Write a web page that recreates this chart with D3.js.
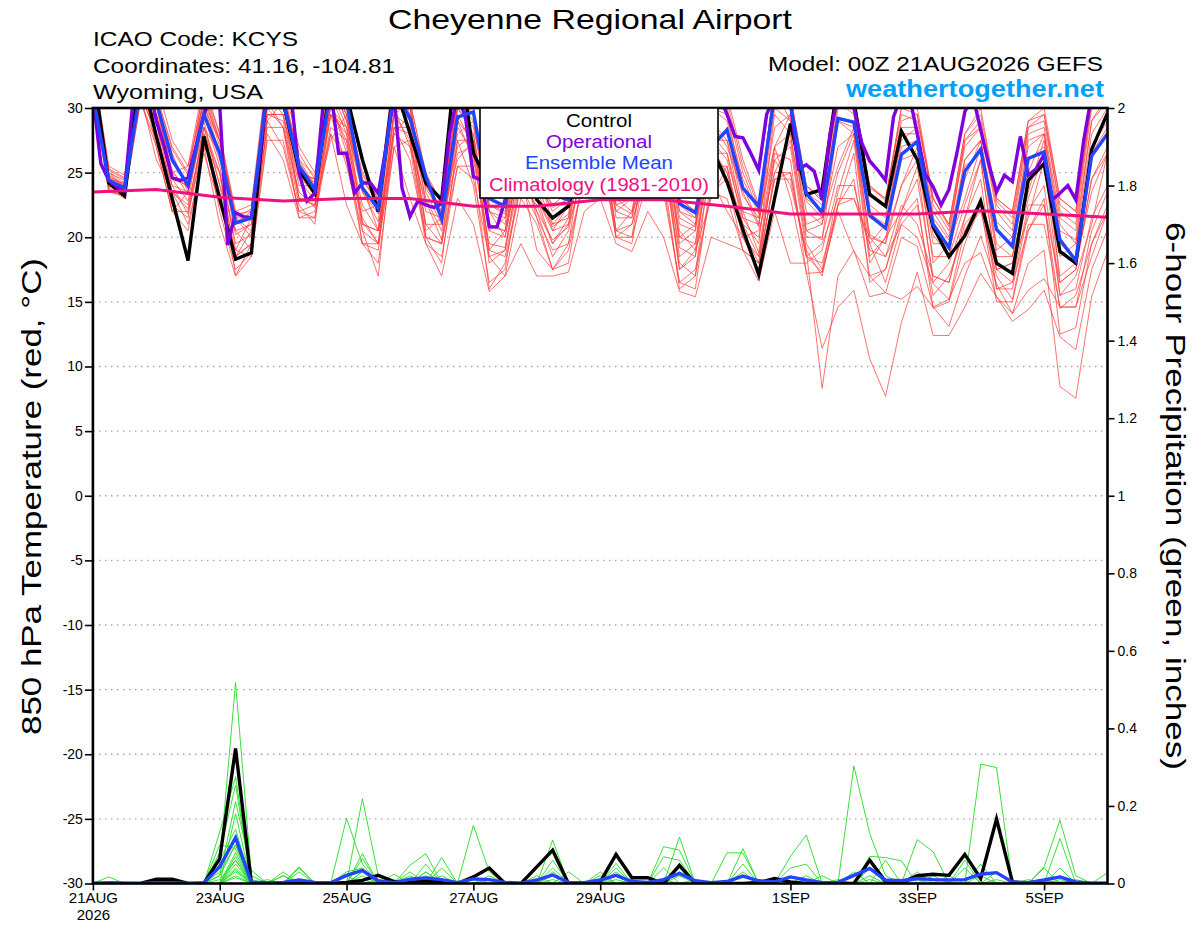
<!DOCTYPE html>
<html><head><meta charset="utf-8">
<script src="https://cdn.jsdelivr.net/npm/d3@7"></script>
<style>
body{margin:0;background:#fff}
svg{display:block}
text{font-family:"Liberation Sans",Arial,Helvetica,sans-serif}
</style>
</head><body>
<svg id="c" width="1200" height="927"></svg>
<script>
// ---------------- DATA ----------------
const runStart = "2026-08-21T00:00:00Z";
const stepHours = 6;          // members, control, mean
const operStepHours = 3;      // operational run
const tempTickValues = [-30,-25,-20,-15,-10,-5,0,5,10,15,20,25,30];
const tempTickLabels = ["-30","-25","-20","-15","-10","-5","0","5","10","15","20","25","30"];
const precipTickValues = [0,0.2,0.4,0.6,0.8,1,1.2,1.4,1.6,1.8,2];
const precipTickLabels = ["0","0.2","0.4","0.6","0.8","1","1.2","1.4","1.6","1.8","2"];
const dateTicks = ["2026-08-21","2026-08-23","2026-08-25","2026-08-27","2026-08-29","2026-09-01","2026-09-03","2026-09-05"];
const dateTickLabels = ["21AUG","23AUG","25AUG","27AUG","29AUG","1SEP","3SEP","5SEP"];
const firstTickYear = "2026";

// control (black) 850 hPa temperature, 6-hourly
const controlTemp = [33,24.2,23.2,33, 27.8,23.0,18.2,27.8, 23.0,18.3,18.8,32, 30.5,25.2,23.4,32,
  31,26.0,22.0,32, 28,24.2,22.9,35, 26.5,24,24.5,28, 22.9,21.5,22.4,27,
  31,28,25,29, 28,25,24,27, 24.3,20.6,17.1,23.0, 28.8,23.3,23.7,32,
  30.5,23.3,22.4,28.2, 26.0,20.8,18.5,20.1, 22.8,18.0,17.2,24.4, 25.7,18.9,18.0,26.8, 29.6];
// ensemble mean (blue)
const meanTemp = [31,24.4,23.8,31.5, 30.5,26.0,24.0,29.5, 26.5,21.1,21.5,31.5, 30.5,25.5,23.7,31.5,
  30.5,23.8,22.2,31.5, 29.2,24.7,21.4,29.3, 29.7,23.0,22.4,28, 24,23.3,22.9,27,
  30,24.5,23.5,28, 28,22.6,21.9,27, 28.3,23.8,22.4,31, 30.3,23.4,21.9,29.2,
  28.9,21.7,20.7,26.4, 27.4,21.0,19.2,25.1, 26.8,20.6,19.3,26.1, 26.6,19.8,18.2,26.3, 28.0];
// operational (purple), 3-hourly
const operTemp = [31,25.7,24.4,23.9,23.6,30.2,33,32,29.0,27.0,24.6,24.4,24.6,27.0,29.5,31,
  30.2,19.4,21.9,21.6,21.5,26.0,31.5,33,33,31,25.0,22.8,23.4,30,31.5,26.5,
  26.5,23.4,24.2,24.2,23.4,27,31,23.8,21.6,22.8,22.5,22.3,22.6,28,31,29.3,
  24.7,24.4,20.8,20.8,22.9,27,31,33,32,29,26,25,24.5,27,31,33,
  32,29,26,25,24.5,27,31,33,32,29,26,25,24.5,27,31,31,
  29.5,27.8,27.7,26.5,25.2,29.5,31,32,30.5,25.3,25.6,25.1,22.9,28,31,32,
  30,27.3,25.9,25.2,24.4,29.3,31,31,28.0,24.9,23.9,22.5,23.7,26.5,29.7,31,
  28.3,25.7,23.5,24.8,24.3,27.8,24.8,25.3,26.4,22.9,23.4,24.0,22.9,27.5,31,33, 33];
// climatology (1981-2010), daily
const climoTemp = [23.5,23.7,23.1,22.8,23.0,23.0,22.4,22.4,22.9,22.9,22.4,21.8,21.8,21.8,22.05,21.8,21.55];

// ensemble members (red), 6-hourly
const memberTemps = [
 [32.0,24.8,23.9,32.0, 29.5,25.8,24.2,30.5, 26.5,21.2,21.8,32.0, 30.0,25.8,23.9,32.0, 29.5,23.5,21.8,31.5, 29.0,24.3,21.5,30.0, 28.5,22.5,21.8,28.0, 24.0,22.3,23.0,29.0, 30.5,24.0,23.2,30.0, 28.0,21.5,20.8,29.0, 27.5,23.2,21.5,31.0, 30.0,22.8,21.5,30.5, 29.5,21.5,20.8,27.5, 28.5,21.5,19.8,26.0, 27.5,21.2,20.0,27.0, 28.0,21.0,19.5,28.0, 30.0],
 [31.0,23.5,23.2,31.0, 28.0,23.5,22.2,28.5, 24.0,18.5,19.5,30.0, 28.5,23.5,22.3,30.5, 27.0,21.2,19.5,30.0, 27.0,22.8,19.8,29.0, 26.0,19.5,19.2,26.0, 22.0,19.8,20.8,27.5, 29.0,22.0,21.5,28.0, 26.0,19.2,18.5,27.5, 26.0,21.5,19.5,29.5, 28.0,20.5,19.8,29.0, 28.0,20.2,19.5,27.0, 27.5,20.2,18.5,25.5, 26.5,19.5,18.5,26.0, 27.0,19.5,18.3,27.0, 29.0],
 [32.5,24.5,24.2,33.0, 30.5,26.5,23.5,31.0, 27.0,20.5,21.0,31.5, 31.0,26.0,24.0,32.5, 29.0,24.0,22.0,32.0, 30.0,23.5,21.0,29.5, 27.0,21.0,20.5,27.0, 23.5,21.0,21.5,29.5, 30.0,23.0,22.0,29.0, 27.0,20.5,19.0,27.0, 25.0,21.0,18.5,26.0, 24.0,19.0,8.3,17.0, 19.0,15.4,15.7,20.0, 19.3,14.6,13.1,17.0, 20.1,16.4,14.1,18.0, 19.0,8.45,7.55,15.4, 18.9],
 [31.5,24.0,23.5,31.5, 29.0,24.5,22.8,29.5, 25.5,19.5,20.2,31.0, 29.5,24.5,22.8,31.0, 28.0,22.5,20.5,31.0, 28.5,23.0,20.5,29.0, 27.5,20.5,20.0,26.5, 23.0,20.5,21.0,28.5, 29.5,22.5,21.8,28.5, 26.5,20.0,19.5,28.0, 26.5,22.0,18.8,27.0, 23.0,17.3,11.4,14.6, 15.9,10.6,7.7,13.4, 17.3,12.4,12.4,14.6, 17.2,15.4,13.5,14.4, 15.9,12.3,11.3,17.5, 20.6],
 [33.5,25.5,24.8,33.5, 32.0,27.5,25.5,32.0, 28.0,22.0,22.5,33.0, 32.0,27.0,25.0,33.0, 30.0,25.0,23.0,33.0, 30.5,25.0,22.6,31.0, 30.0,23.0,22.5,30.0, 25.0,23.0,24.0,31.0, 31.0,25.0,24.0,31.0, 30.0,23.0,22.0,31.0, 31.0,26.0,22.5,32.0, 31.0,24.0,23.0,31.0, 31.0,24.0,23.0,30.0, 30.0,23.0,21.0,28.0, 30.0,23.0,22.0,29.0, 30.0,23.0,22.0,31.0, 32.0],
 [31.0,24.2,23.6,32.5, 27.0,22.0,23.5,29.0, 24.0,20.5,19.0,29.0, 30.5,23.0,22.5,27.5, 29.5,21.0,20.5,28.0, 29.5,20.5,21.5,26.0, 27.5,19.0,18.5,24.0, 22.5,19.5,21.0,25.0, 29.0,20.5,22.0,24.5, 27.0,17.5,19.0,23.0, 25.5,20.0,20.5,25.0, 27.5,19.5,17.5,23.5, 27.5,18.0,20.0,22.0, 25.5,16.5,18.0,21.5, 26.0,17.5,18.0,21.5, 26.0,15.5,17.0,21.0, 26.5],
 [32.0,25.0,24.4,31.5, 30.0,25.0,23.8,30.0, 27.5,21.5,21.5,32.5, 31.5,25.0,24.5,32.0, 29.5,24.5,22.5,32.5, 29.5,24.5,22.0,30.5, 29.0,22.0,21.0,29.0, 24.5,22.5,22.5,30.0, 30.5,24.5,23.5,30.5, 29.0,22.5,21.5,30.0, 29.0,24.5,21.8,31.5, 29.0,23.5,22.5,31.0, 30.5,23.5,22.5,29.0, 29.5,22.5,20.5,27.0, 28.5,22.5,21.0,28.5, 29.5,22.0,21.0,30.0, 31.0],
 [31.5,23.8,23.0,30.5, 27.5,22.5,21.5,28.0, 22.0,17.5,18.8,29.0, 27.0,22.0,21.5,29.5, 25.5,20.5,17.0,28.5, 26.0,20.0,18.0,27.5, 24.0,16.5,17.5,25.0, 19.0,17.5,18.0,25.5, 27.0,20.0,19.5,26.5, 23.5,16.5,16.0,24.5, 22.0,20.0,17.5,25.0, 25.0,18.5,17.3,22.0, 18.9,17.0,15.7,15.2, 16.2,14.6,15.2,18.0, 18.8,15.4,14.1,15.9, 16.8,14.6,14.6,18.5, 22.0],
 [32.0,24.6,24.0,32.0, 30.5,25.0,25.5,30.5, 27.5,21.5,20.0,30.0, 31.0,25.0,24.5,30.0, 28.5,24.0,20.5,29.5, 30.5,22.5,22.0,28.0, 29.0,22.0,20.0,26.5, 25.5,21.0,22.5,27.0, 30.5,22.5,23.0,27.0, 29.0,20.0,21.0,26.5, 28.5,22.0,21.5,27.0, 29.5,21.0,21.5,25.5, 28.5,20.0,19.5,24.0, 27.0,18.0,19.5,23.0, 27.0,18.5,18.5,23.5, 27.5,16.5,17.5,24.5, 27.0],
 [31.0,24.0,23.3,31.0, 26.0,23.5,21.0,26.5, 22.5,19.0,18.5,27.5, 27.5,22.0,22.5,28.0, 26.0,19.5,19.5,27.0, 27.5,20.0,19.5,25.5, 24.5,18.5,17.0,23.0, 21.0,17.5,19.5,24.5, 27.0,20.0,21.0,25.5, 24.0,16.5,17.5,23.5, 23.0,19.0,18.0,24.5, 24.5,18.5,19.5,23.0, 23.0,19.5,16.5,21.0, 22.5,15.5,17.0,20.5, 23.0,16.0,16.5,20.5, 22.5,14.5,15.5,19.5, 22.0],
 [33.0,25.2,24.5,33.5, 31.0,27.0,25.0,31.5, 27.5,21.0,22.0,32.0, 31.5,25.5,24.2,32.0, 29.0,23.8,22.4,32.0, 30.0,24.0,22.3,30.5, 29.5,22.5,22.0,29.0, 24.0,22.5,23.5,30.5, 31.0,24.5,23.5,30.5, 29.5,22.0,21.5,30.5, 30.0,25.0,22.0,32.0, 31.0,24.0,22.8,31.5, 31.0,23.8,23.0,29.5, 29.0,23.0,20.8,27.5, 29.0,22.8,21.5,28.5, 29.0,22.5,21.5,30.5, 31.5],
 [31.5,24.3,23.8,31.0, 28.0,24.0,21.8,28.5, 25.0,18.5,19.5,30.5, 28.5,22.5,21.0,30.5, 26.5,21.5,19.5,29.5, 27.5,21.0,19.5,28.5, 26.5,18.5,19.0,26.0, 21.5,19.0,19.5,27.0, 28.5,20.5,20.0,28.0, 26.0,18.0,17.0,26.5, 25.0,20.5,18.0,26.5, 26.0,17.2,17.3,22.5, 23.0,20.0,18.5,22.5, 21.0,17.0,16.5,21.0, 22.5,17.5,16.5,22.5, 22.5,16.5,17.5,24.5, 26.5],
 [32.5,24.9,24.0,32.5, 30.5,24.5,24.0,29.5, 26.0,21.5,20.5,29.5, 29.5,24.0,24.0,30.0, 27.5,22.0,22.5,29.5, 28.5,22.0,21.5,27.0, 28.0,20.5,21.5,26.0, 24.5,20.5,22.5,27.5, 28.5,22.0,23.0,28.0, 28.5,19.5,20.5,27.5, 27.5,21.5,21.0,28.5, 29.5,20.5,21.0,27.0, 28.0,19.5,21.0,26.0, 26.5,19.5,19.5,24.5, 27.5,19.0,20.0,25.0, 28.0,18.5,19.5,26.5, 28.5],
 [31.0,23.6,23.2,30.5, 27.0,22.0,20.5,27.0, 21.0,17.0,18.5,28.0, 26.0,21.5,21.5,28.0, 22.5,19.5,18.0,27.0, 23.0,19.5,17.0,23.0, 21.0,15.8,17.0,19.5, 17.0,17.0,17.3,22.0, 23.0,19.5,18.9,22.0, 20.0,15.8,15.4,20.0, 19.5,19.0,16.6,22.0, 18.0,18.0,19.0,24.0, 24.0,19.0,18.5,21.0, 20.0,16.4,15.2,20.5, 22.0,17.0,15.2,21.0, 21.0,14.6,14.6,20.5, 23.5],
 [32.0,24.5,23.7,31.5, 29.5,24.0,23.5,28.5, 26.5,19.0,21.5,29.5, 29.0,23.0,23.0,29.5, 28.5,21.0,20.5,28.5, 28.5,21.0,21.0,27.5, 27.5,19.0,20.5,26.0, 23.0,19.5,21.5,26.5, 29.5,21.5,21.5,26.5, 27.5,18.5,19.5,26.5, 26.5,21.0,20.0,27.0, 28.0,20.0,20.0,25.0, 28.0,18.5,20.0,24.0, 26.0,18.5,18.5,22.5, 26.0,17.5,18.0,23.0, 26.5,17.0,18.0,23.5, 26.5],
 [33.0,25.0,24.2,32.5, 30.5,26.0,24.0,31.0, 27.5,21.8,22.0,32.0, 31.0,26.5,24.5,32.0, 29.5,24.5,22.8,32.0, 30.0,24.0,22.0,30.0, 29.5,22.0,21.5,29.5, 24.5,22.0,23.0,30.0, 30.5,24.0,23.5,30.0, 29.0,22.0,21.0,30.0, 29.5,24.0,21.0,31.0, 30.0,23.0,22.0,30.0, 30.0,22.5,21.5,28.5, 28.5,22.0,20.0,27.5, 28.5,22.0,20.5,28.0, 28.5,21.5,20.5,29.0, 31.0],
 [31.5,23.9,23.4,31.5, 29.0,22.0,22.0,27.0, 25.0,17.0,19.5,28.5, 28.5,21.5,22.0,28.5, 27.5,19.5,19.0,28.0, 27.0,19.5,18.5,25.5, 25.5,16.0,18.0,24.0, 21.5,17.5,19.0,24.5, 28.0,20.0,20.0,24.5, 25.0,16.0,17.0,23.5, 24.5,19.0,18.0,24.5, 25.0,18.5,18.0,22.5, 24.5,17.0,17.5,21.5, 23.0,14.5,15.0,19.5, 22.5,15.0,15.0,20.5, 23.0,12.5,13.0,19.5, 22.5],
 [32.0,24.7,24.1,32.0, 29.5,25.2,23.3,30.0, 26.5,20.2,21.0,31.0, 30.0,24.8,23.2,31.5, 28.5,23.5,21.2,31.0, 29.0,23.8,21.8,30.0, 28.0,20.8,20.5,28.0, 23.0,20.8,21.8,29.0, 29.5,23.5,22.8,29.5, 28.5,21.0,20.5,29.0, 27.0,23.5,20.8,30.0, 29.0,22.0,21.0,29.0, 28.5,21.8,21.0,28.0, 28.0,21.0,19.0,26.0, 27.5,20.5,19.5,27.5, 28.0,20.5,19.8,29.0, 30.5],
 [31.5,24.1,23.5,31.0, 29.0,23.5,22.5,28.0, 25.0,18.5,20.5,29.5, 29.5,23.0,22.5,29.5, 28.0,20.5,19.5,28.5, 28.0,20.0,19.5,26.5, 27.0,18.0,19.0,25.0, 22.0,18.5,20.5,26.0, 29.0,20.5,21.0,26.0, 26.0,17.5,18.5,25.5, 25.5,20.0,18.5,26.0, 27.0,19.0,17.0,22.5, 26.5,16.5,17.5,22.0, 24.5,17.0,16.5,21.5, 24.5,16.0,16.0,22.0, 24.0,15.5,16.0,21.5, 24.0],
 [33.0,25.3,24.6,33.0, 31.0,26.8,24.8,31.5, 28.0,21.5,22.2,32.5, 31.5,26.0,24.8,32.5, 30.0,24.8,23.0,32.5, 30.5,24.8,22.5,31.0, 29.5,23.0,22.5,30.0, 25.0,23.0,23.5,31.0, 31.0,25.0,24.0,31.0, 30.0,23.0,22.0,31.0, 30.5,25.5,22.3,32.0, 30.5,24.0,22.8,31.0, 30.5,24.0,22.8,30.0, 29.5,23.0,21.0,28.0, 29.5,23.0,22.0,29.0, 29.5,23.0,22.0,30.5, 32.0]
];

// 6-hour precipitation (inches), control and ensemble mean
const controlPrecip = [0,0,0,0, 0.011,0.011,0,0, 0.064,0.348,0,0, 0,0,0,0,
  0.003,0.008,0.021,0.005, 0.002,0.007,0.003,0, 0.017,0.040,0,0, 0.043,0.086,0,0,
  0.004,0.075,0.015,0.015, 0,0.047,0,0, 0,0,0.002,0.013, 0.004,0,0,0,
  0,0.060,0.005,0.002, 0.020,0.024,0.021,0.075, 0.013,0.166,0.004,0, 0,0,0,0, 0];
const meanPrecip = [0,0.002,0.001,0, 0.002,0.002,0,0.002, 0.043,0.118,0.003,0.002, 0.003,0.009,0.003,0.002,
  0.021,0.034,0.007,0.002, 0.011,0.014,0.010,0.002, 0.012,0.010,0.003,0.001, 0.009,0.022,0.003,0.002,
  0.009,0.021,0.005,0.003, 0.010,0.026,0.007,0.002, 0.005,0.019,0.007,0.004, 0.017,0.009,0.002,0.003,
  0.021,0.039,0.009,0.007, 0.013,0.010,0.009,0.010, 0.024,0.028,0.004,0.002, 0.009,0.017,0.004,0.001, 0.001];
// members (green): [time index, inches]; all other 6-hour periods read as 0
const memberPrecip = [
 [[8,.05],[9,.518],[10,.02],[17,.03],[21,.03],[29,.04],[37,.04],[45,.02],[49,.04],[56,.05],[61,.04]],
 [[8,.133],[9,.275],[13,.04],[16,.168],[17,.05],[24,.02],[33,.03],[48,.303],[49,.129],[50,.02],[61,.02]],
 [[8,.08],[9,.254],[12,.02],[17,.219],[18,.02],[22,.067],[29,.112],[36,.04],[41,.09],[52,.113],[53,.082],[64,.028]],
 [[8,.02],[9,.211],[10,.034],[20,.047],[21,.077],[24,.150],[25,.03],[37,.120],[44,.07],[45,.125],[57,.03]],
 [[1,.017],[9,.18],[13,.043],[17,.077],[28,.04],[29,.08],[33,.052],[36,.095],[37,.086],[49,.07],[50,.067],[51,.058],[56,.308],[57,.299]],
 [[8,.06],[9,.14],[17,.065],[22,.04],[29,.06],[32,.03],[40,.079],[41,.079],[49,.06],[60,.043],[61,.163],[62,.02]],
 [[8,.04],[9,.12],[12,.02],[19,.024],[21,.05],[30,.03],[33,.04],[44,.04],[45,.05],[52,.03],[55,.06],[61,.116]],
 [[8,.03],[9,.10],[16,.03],[17,.04],[20,.03],[28,.02],[36,.069],[37,.06],[41,.05],[48,.03],[55,.04],[60,.04]],
 [[8,.10],[9,.09],[16,.02],[21,.03],[25,.02],[33,.02],[41,.03],[46,.02],[50,.06],[54,.02]],
 [[9,.08],[13,.03],[18,.01],[22,.02],[29,.02],[32,.02],[37,.03],[49,.04],[57,.01]],
 [[9,.07],[12,.03],[17,.02],[34,.01],[38,.01],[47,.01],[53,.02],[59,.01]],
 [[8,.01],[9,.06],[20,.02],[29,.03],[42,.01],[49,.02],[56,.02]],
 [[9,.05],[11,.01],[21,.02],[33,.01],[45,.01],[62,.01]],
 [[9,.04],[17,.01],[24,.01],[37,.02]],
 [[9,.03],[22,.01],[36,.01],[52,.01]],
 [[9,.02],[29,.01],[49,.01]],
 [[8,.02],[9,.10],[10,.01],[17,.03]],
 [[9,.06],[25,.01],[41,.02]],
 [[9,.035]],
 [[9,.015],[61,.01]]
];

// ---------------- DRAW ----------------
const svg = d3.select("#c");
const P = {left: 92.9, right: 1107.5, top: 108, bottom: 883.5};
const HOUR = 3600 * 1000;
const t0 = new Date(runStart);
const nSteps = controlTemp.length;
const x = d3.scaleUtc().domain([t0, new Date(+t0 + (nSteps - 1) * stepHours * HOUR)]).range([P.left, P.right]);
const yT = d3.scaleLinear().domain([-30, 30]).range([P.bottom, P.top]);
const yP = d3.scaleLinear().domain([0, 2]).range([P.bottom, P.top]);
const tAt = (i, h) => new Date(+t0 + i * h * HOUR);

svg.append("rect").attr("width", 1200).attr("height", 927).attr("fill", "#fff");
svg.append("defs").append("clipPath").attr("id", "clip")
  .append("rect").attr("x", P.left).attr("y", P.top).attr("width", P.right - P.left).attr("height", P.bottom - P.top);

// grid
svg.append("g").selectAll("line").data(tempTickValues.filter(v => v > -30 && v < 30)).join("line")
  .attr("x1", P.left).attr("x2", P.right).attr("y1", d => yT(d)).attr("y2", d => yT(d))
  .attr("stroke", "#a8a8a8").attr("stroke-width", 1.4).attr("stroke-dasharray", "1.6,4.4");

const plot = svg.append("g").attr("clip-path", "url(#clip)");
const lineT = h => d3.line().x((d, i) => x(tAt(i, h))).y(d => yT(d));
const lineP = d3.line().x((d, i) => x(tAt(i, stepHours))).y(d => yP(d));

// red members
plot.append("g").selectAll("path").data(memberTemps).join("path")
  .attr("d", lineT(stepHours)).attr("fill", "none")
  .attr("stroke", "#ff3b3b").attr("stroke-width", 0.9).attr("stroke-opacity", 0.8);
// green members
const greenSeries = memberPrecip.map(pairs => {
  const s = controlPrecip.map(() => 0);
  pairs.forEach(([i, v]) => { s[i] = v; });
  return s;
});
plot.append("g").selectAll("path").data(greenSeries).join("path")
  .attr("d", lineP).attr("fill", "none")
  .attr("stroke", "#22dd22").attr("stroke-width", 0.9);

// control, operational, mean
plot.append("path").datum(controlTemp).attr("d", lineT(stepHours)).attr("fill", "none")
  .attr("stroke", "#000").attr("stroke-width", 3.4).attr("stroke-linejoin", "miter");
plot.append("path").datum(controlPrecip).attr("d", lineP).attr("fill", "none")
  .attr("stroke", "#000").attr("stroke-width", 3.4);
plot.append("path").datum(operTemp).attr("d", lineT(operStepHours)).attr("fill", "none")
  .attr("stroke", "#7f00dc").attr("stroke-width", 3.4);
plot.append("path").datum(meanTemp).attr("d", lineT(stepHours)).attr("fill", "none")
  .attr("stroke", "#2244ff").attr("stroke-width", 3.4);
plot.append("path").datum(meanPrecip).attr("d", lineP).attr("fill", "none")
  .attr("stroke", "#2244ff").attr("stroke-width", 3.4);
// climatology (daily)
plot.append("path").datum(climoTemp).attr("d", lineT(24)).attr("fill", "none")
  .attr("stroke", "#f0107f").attr("stroke-width", 3);

// axes
const left = svg.append("g").attr("transform", `translate(${P.left},0)`)
  .call(d3.axisLeft(yT).tickValues(tempTickValues).tickSize(8).tickSizeOuter(0)
    .tickFormat((d, i) => tempTickLabels[i]));
const right = svg.append("g").attr("transform", `translate(${P.right},0)`)
  .call(d3.axisRight(yP).tickValues(precipTickValues).tickSize(7).tickSizeOuter(0)
    .tickFormat((d, i) => precipTickLabels[i]));
const bottom = svg.append("g").attr("transform", `translate(0,${P.bottom})`)
  .call(d3.axisBottom(x).tickValues(dateTicks.map(d => new Date(d + "T00:00:00Z"))).tickSize(7).tickSizeOuter(0)
    .tickFormat((d, i) => dateTickLabels[i]));
[left, right, bottom].forEach(g => {
  g.select(".domain").remove();
  g.selectAll(".tick line").attr("stroke", "#000").attr("stroke-width", 1.6);
  g.selectAll(".tick text").attr("fill", "#000").style("font-family", '"Liberation Sans",Arial,sans-serif');
});
left.selectAll(".tick text").attr("font-size", 14).attr("x", -10);
right.selectAll(".tick text").attr("font-size", 14).attr("x", 10);
bottom.selectAll(".tick text").attr("font-size", 15).attr("y", 9).attr("dy", "0.71em");
bottom.select(".tick text").each(function () {
  d3.select(this.parentNode).append("text").attr("fill", "#000").attr("font-size", 15)
    .attr("text-anchor", "middle").attr("y", 26).attr("dy", "0.71em").text(firstTickYear);
});

// frame
svg.append("rect").attr("x", P.left).attr("y", P.top).attr("width", P.right - P.left).attr("height", P.bottom - P.top)
  .attr("fill", "none").attr("stroke", "#000").attr("stroke-width", 2.6);

// legend
const lg = svg.append("g");
lg.append("rect").attr("x", 480).attr("y", P.top).attr("width", 238).attr("height", 90)
  .attr("fill", "#fff").attr("stroke", "#000").attr("stroke-width", 1.6);
const legendItems = [
  {t: "Control", c: "#000", y: 126.5, w: 66},
  {t: "Operational", c: "#7f00dc", y: 147.5, w: 106},
  {t: "Ensemble Mean", c: "#2244ff", y: 169, w: 148},
  {t: "Climatology (1981-2010)", c: "#f0107f", y: 190.5, w: 220}
];
lg.selectAll("text").data(legendItems).join("text")
  .attr("x", 599).attr("y", d => d.y).attr("text-anchor", "middle").attr("font-size", 17.5)
  .attr("fill", d => d.c).attr("textLength", d => d.w).attr("lengthAdjust", "spacingAndGlyphs").text(d => d.t);

// header texts
const hdr = [
  {t: "Cheyenne Regional Airport", x: 590, y: 28.5, s: 28, w: 404, a: "middle", c: "#000", b: "normal"},
  {t: "ICAO Code: KCYS", x: 93, y: 45.7, s: 21, w: 205, a: "start", c: "#000", b: "normal"},
  {t: "Coordinates: 41.16, -104.81", x: 93, y: 73, s: 21, w: 302, a: "start", c: "#000", b: "normal"},
  {t: "Wyoming, USA", x: 93, y: 99, s: 21, w: 170, a: "start", c: "#000", b: "normal"},
  {t: "Model: 00Z 21AUG2026 GEFS", x: 1103, y: 70.7, s: 20, w: 335, a: "end", c: "#000", b: "normal"},
  {t: "weathertogether.net", x: 1104, y: 96.5, s: 23, w: 258, a: "end", c: "#00a0fa", b: "bold"}
];
svg.append("g").selectAll("text").data(hdr).join("text")
  .attr("x", d => d.x).attr("y", d => d.y).attr("font-size", d => d.s).attr("text-anchor", d => d.a)
  .attr("fill", d => d.c).attr("font-weight", d => d.b)
  .attr("textLength", d => d.w).attr("lengthAdjust", "spacingAndGlyphs").text(d => d.t);

// axis titles
svg.append("text").attr("transform", "translate(41,496.5) rotate(-90)").attr("text-anchor", "middle")
  .attr("font-size", 28).attr("textLength", 477).attr("lengthAdjust", "spacingAndGlyphs")
  .text("850 hPa Temperature (red, °C)");
svg.append("text").attr("transform", "translate(1166,496) rotate(90)").attr("text-anchor", "middle")
  .attr("font-size", 28).attr("textLength", 548).attr("lengthAdjust", "spacingAndGlyphs")
  .text("6-hour Precipitation (green, inches)");

// sanity check of array lengths
const bad = memberTemps.map((m, k) => m.length !== nSteps ? k : -1).filter(k => k >= 0);
if (bad.length || meanTemp.length !== nSteps || controlPrecip.length !== nSteps || meanPrecip.length !== nSteps || operTemp.length !== 2 * nSteps - 1) {
  svg.append("text").attr("x", 300).attr("y", 500).attr("fill", "red").attr("font-size", 20)
    .text("LEN ERR " + bad.join(",") + " " + meanTemp.length + " " + controlPrecip.length + " " + meanPrecip.length + " " + operTemp.length);
}
</script>
</body></html>
